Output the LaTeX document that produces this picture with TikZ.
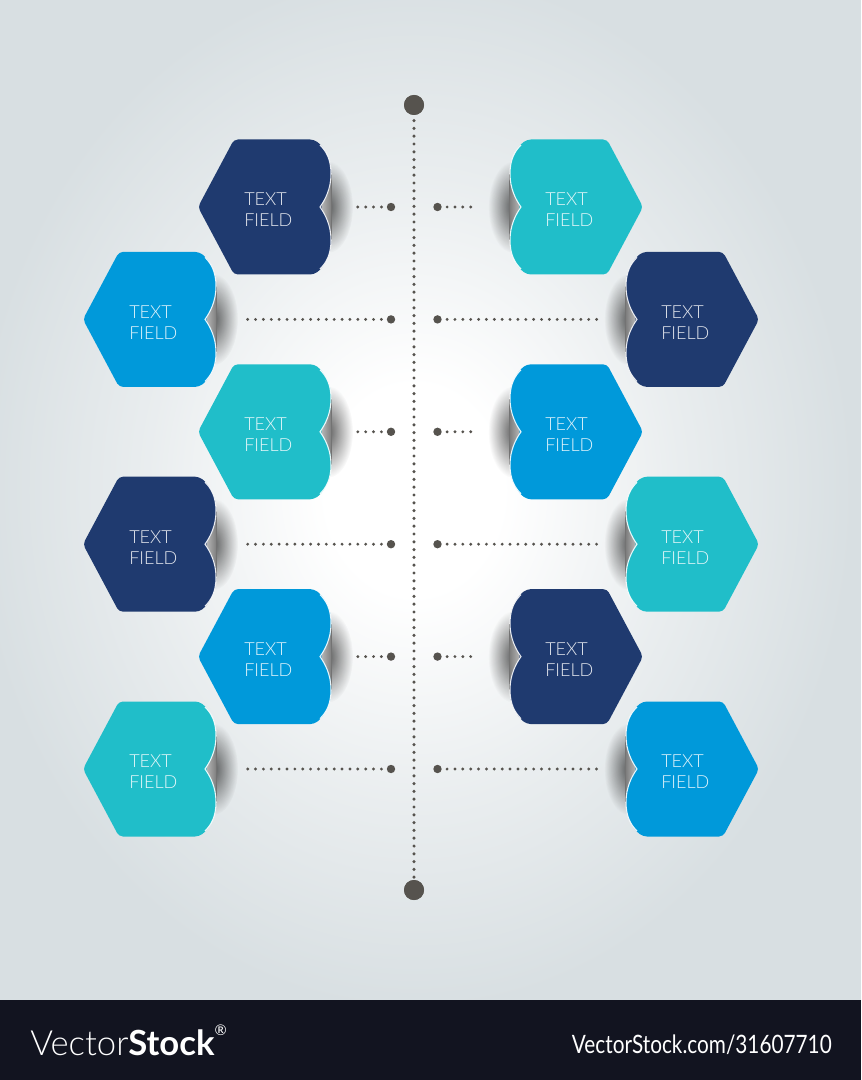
\documentclass[tikz,border=0pt]{standalone}
\usepackage{fontspec}
\setmainfont{Lato}
\newfontfamily\cardfont{Lato Light}
\usepackage{graphicx}
\usetikzlibrary{fadings}
\tikzfading[name=softshadow, inner color=transparent!0, outer color=transparent!100]
\definecolor{bg}{HTML}{D8DFE2}
\definecolor{cNavy}{HTML}{1F3A6F}
\definecolor{cTeal}{HTML}{20BEC9}
\definecolor{cBlue}{HTML}{0099DA}
\definecolor{dotc}{HTML}{56534E}
\definecolor{bannerc}{HTML}{121420}
\pgfdeclareradialshading{glow}{\pgfpoint{0bp}{0bp}}{color(0bp)=(white); color(5bp)=(white); color(15bp)=(white!45!bg); color(25bp)=(bg); color(50bp)=(bg)}
\tikzset{
  dotline/.style={dotc, line width=2.4pt, line cap=round, dash pattern=on 0pt off 5.9pt},
  vdotline/.style={dotc, line width=2.6pt, line cap=round, dash pattern=on 0pt off 5.85pt},
  enddot/.style={circle, fill=dotc, inner sep=0pt, minimum size=6.3pt},
  termdot/.style={circle, fill=dotc, inner sep=0pt, minimum size=15pt},
  cardtext/.style={font=\cardfont\fontsize{13.5}{15.75}\selectfont, align=left, inner sep=0pt, anchor=west},
  edgeline/.style={white, line width=0.8pt, opacity=0.9},
}
% #1 point x, #2 centre y, #3 colour, #4 direction (1 or -1), #5 name
\newcommand\hexcard[5]{%
  \ifnum#4>0 \def\foldA{black!12}\def\foldB{black!50}\else\def\foldA{black!50}\def\foldB{black!12}\fi
  \fill[black, fill opacity=0.62, path fading=softshadow] ({#1+(#4)*130},{#2}) ellipse [x radius=25, y radius=46];
  \shade[left color=\foldA, right color=\foldB] ({#1+(#4)*116},{#2-34}) rectangle ({#1+(#4)*133},{#2+34});
  \draw[black!55, line width=1pt] ({#1+(#4)*133.3},{#2-33}) -- ({#1+(#4)*133.3},{#2+33});
  \fill[#3, rounded corners=3pt] (#1,#2) -- ({#1+(#4)*36},{#2-67.5}) -- ({#1+(#4)*116},{#2-67.5})
    .. controls ({#1+(#4)*126},{#2-60}) and ({#1+(#4)*133},{#2-48}) .. ({#1+(#4)*133},{#2-33})
    .. controls ({#1+(#4)*133},{#2-18}) and ({#1+(#4)*127},{#2-7}) .. ({#1+(#4)*122},{#2})
    .. controls ({#1+(#4)*127},{#2+7}) and ({#1+(#4)*133},{#2+18}) .. ({#1+(#4)*133},{#2+33})
    .. controls ({#1+(#4)*133},{#2+48}) and ({#1+(#4)*126},{#2+60}) .. ({#1+(#4)*116},{#2+67.5})
    -- ({#1+(#4)*36},{#2+67.5}) -- cycle;
  \draw[edgeline] ({#1+(#4)*122},{#2-62})
    .. controls ({#1+(#4)*128},{#2-56}) and ({#1+(#4)*133},{#2-48}) .. ({#1+(#4)*133},{#2-33})
    .. controls ({#1+(#4)*133},{#2-18}) and ({#1+(#4)*127},{#2-7}) .. ({#1+(#4)*122},{#2})
    .. controls ({#1+(#4)*127},{#2+7}) and ({#1+(#4)*133},{#2+18}) .. ({#1+(#4)*133},{#2+33})
    .. controls ({#1+(#4)*133},{#2+48}) and ({#1+(#4)*128},{#2+56}) .. ({#1+(#4)*122},{#2+62});
  \node[cardtext, text=white!88!#3] (#5) at ({#1-26+72*(#4)},{#2+3}) {TEXT\\FIELD};
}
\begin{document}
\begin{tikzpicture}[x=0.75pt, y=-0.75pt]
\useasboundingbox (0,0) rectangle (861,1080);
% background
\fill[bg] (0,0) rectangle (861,1000);
\begin{scope}
  \clip (0,0) rectangle (861,1000);
  \shade[shading=glow] (414,490) ellipse [x radius=440, y radius=520];
\end{scope}
\fill[bannerc] (0,1000) rectangle (861,1080);
\node[anchor=base west, inner sep=0pt, text=white, font=\fontsize{26}{30}\selectfont] (brand) at (30,1055)
  {{\cardfont Vector}\textbf{Stock}\raisebox{0.55em}{\fontsize{11}{12}\selectfont ®}};
\node[anchor=base east, inner sep=0pt, text=white, font=\fontsize{19}{22}\selectfont] (url) at (832,1053)
  {\scalebox{0.82}[1]{VectorStock.com/31607710}};

% cards, left column
\hexcard{198}{207}{cNavy}{1}{L1}
\hexcard{83}{319.4}{cBlue}{1}{L2}
\hexcard{198}{431.8}{cTeal}{1}{L3}
\hexcard{83}{544.2}{cNavy}{1}{L4}
\hexcard{198}{656.6}{cBlue}{1}{L5}
\hexcard{83}{769}{cTeal}{1}{L6}
% cards, right column
\hexcard{643}{207}{cTeal}{-1}{R1}
\hexcard{759}{319.4}{cNavy}{-1}{R2}
\hexcard{643}{431.8}{cBlue}{-1}{R3}
\hexcard{759}{544.2}{cTeal}{-1}{R4}
\hexcard{643}{656.6}{cNavy}{-1}{R5}
\hexcard{759}{769}{cBlue}{-1}{R6}

% central timeline
\node[termdot] (top) at (414,105) {};
\node[termdot] (bottom) at (414,890) {};
\draw[vdotline] (top.center) -- (bottom.center);
\node[termdot] at (top.center) {};
\node[termdot] at (bottom.center) {};

% connectors
\foreach \i/\y/\xl/\xr in {1/207/357/475, 2/319.4/247/598, 3/431.8/357/475, 4/544.2/247/598, 5/656.6/357/475, 6/769/247/598}{
  \node[enddot] (dL\i) at (391,\y) {};
  \node[enddot] (dR\i) at (437.5,\y) {};
  \coordinate (sL\i) at (\xl,\y);
  \coordinate (sR\i) at (\xr,\y);
  \draw[dotline] ([xshift=-7.2pt]dL\i.center) -- (sL\i);
  \draw[dotline] ([xshift=7.2pt]dR\i.center) -- (sR\i);
}
\end{tikzpicture}
\end{document}
